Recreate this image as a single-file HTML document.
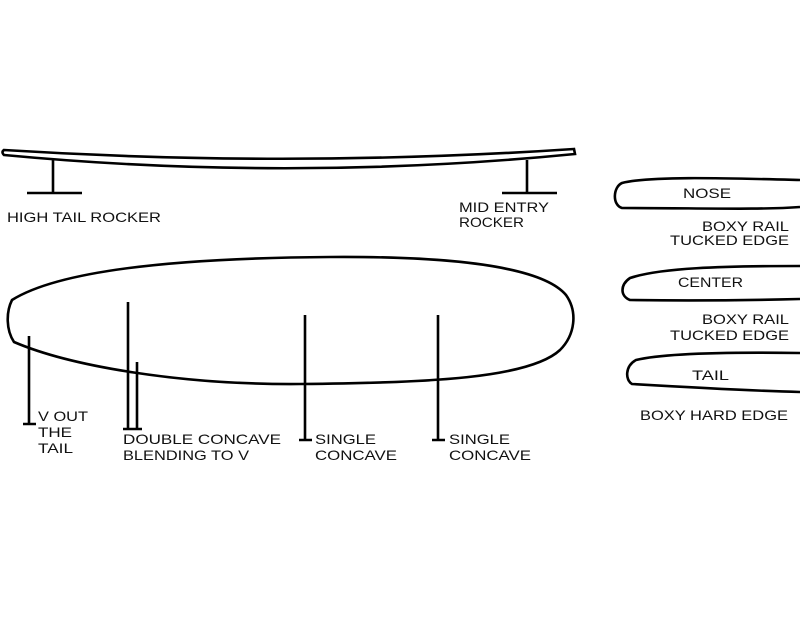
<!DOCTYPE html>
<html><head><meta charset="utf-8"><style>
html,body{margin:0;padding:0;background:#fff;}
svg{display:block}
text{font-family:"Liberation Sans",sans-serif;font-size:14px;fill:#111;}
</style></head><body>
<svg width="800" height="631" viewBox="0 0 800 631" xmlns="http://www.w3.org/2000/svg">
<g fill="none" stroke="#000" stroke-width="2.6" stroke-linecap="butt">
<path d="M4,150 Q290,168 574,149 L575,154 Q290,182 4,155 Q1,152 4,150 Z"/>
<path d="M53,160 V193 M27,193 H82 M527,160 V193 M502,193 H557"/>
<path d="M12,300 C60,270 180,258 330,257 C470,256 545,270 566,295 C578,312 575,335 560,350 C530,378 430,383 300,384 C180,385 70,366 14,342 C6,330 6,312 12,300 Z"/>
<path d="M29,336 V424 M23,424 H36 M128,302 V429 M137,362 V429 M123,429 H142 M305,315 V440 M299,440 H312 M438,315 V440 M432,440 H445"/>
<path d="M800,180 C720,178 650,176 622,183 C613,187 612,205 622,208 C700,208 760,210 800,207"/>
<path d="M800,266 C720,266 660,268 630,278 C620,285 620,296 630,300 C700,301 760,300 800,299"/>
<path d="M800,353 C730,352 665,353 636,360 C625,366 625,380 632,384 C700,388 760,391 800,392"/>
</g>
<g>
<text x="7" y="222" textLength="154" lengthAdjust="spacingAndGlyphs">HIGH TAIL ROCKER</text>
<text x="459" y="212" textLength="90" lengthAdjust="spacingAndGlyphs">MID ENTRY</text>
<text x="459" y="227" textLength="65" lengthAdjust="spacingAndGlyphs">ROCKER</text>
<text x="683" y="198" textLength="48" lengthAdjust="spacingAndGlyphs">NOSE</text>
<text x="702" y="231" textLength="87" lengthAdjust="spacingAndGlyphs">BOXY RAIL</text>
<text x="670" y="245" textLength="119" lengthAdjust="spacingAndGlyphs">TUCKED EDGE</text>
<text x="678" y="287" textLength="65" lengthAdjust="spacingAndGlyphs">CENTER</text>
<text x="702" y="324" textLength="87" lengthAdjust="spacingAndGlyphs">BOXY RAIL</text>
<text x="670" y="340" textLength="119" lengthAdjust="spacingAndGlyphs">TUCKED EDGE</text>
<text x="692" y="380" textLength="37" lengthAdjust="spacingAndGlyphs">TAIL</text>
<text x="640" y="420" textLength="148" lengthAdjust="spacingAndGlyphs">BOXY HARD EDGE</text>
<text x="38" y="421" textLength="50" lengthAdjust="spacingAndGlyphs">V OUT</text>
<text x="38" y="437" textLength="34" lengthAdjust="spacingAndGlyphs">THE</text>
<text x="38" y="453" textLength="35" lengthAdjust="spacingAndGlyphs">TAIL</text>
<text x="123" y="444" textLength="158" lengthAdjust="spacingAndGlyphs">DOUBLE  CONCAVE</text>
<text x="123" y="460" textLength="126" lengthAdjust="spacingAndGlyphs">BLENDING TO V</text>
<text x="315" y="444" textLength="61" lengthAdjust="spacingAndGlyphs">SINGLE</text>
<text x="315" y="460" textLength="82" lengthAdjust="spacingAndGlyphs">CONCAVE</text>
<text x="449" y="444" textLength="61" lengthAdjust="spacingAndGlyphs">SINGLE</text>
<text x="449" y="460" textLength="82" lengthAdjust="spacingAndGlyphs">CONCAVE</text>
</g>
</svg>
</body></html>
